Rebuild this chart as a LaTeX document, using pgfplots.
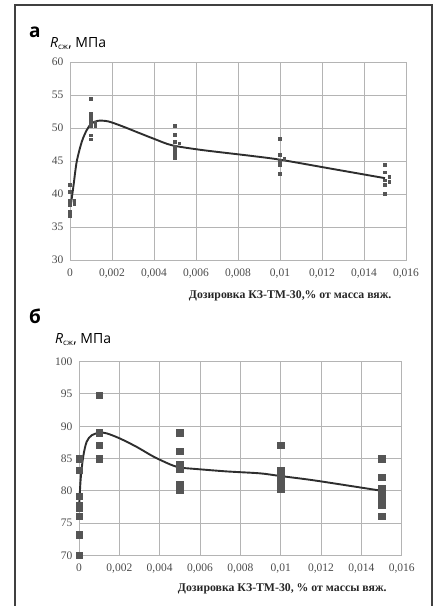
\documentclass[border=0pt]{standalone}
\usepackage{pgfplots}
\pgfplotsset{compat=1.18}
\usepackage{fontspec}
\setmainfont{Liberation Serif}
\newfontfamily\sans{Open Sans}
\definecolor{gridc}{HTML}{B4B4B4}
\definecolor{markc}{HTML}{555555}
\definecolor{linec}{HTML}{2E2E2E}
\definecolor{tickc}{HTML}{4A4A4A}
\pgfplotsset{
  panel/.style={
    scale only axis, anchor=south west,
    axis line style={gridc, line width=1pt},
    grid=major, grid style={gridc, line width=1pt},
    major tick length=0pt,
    scaled x ticks=false, scaled y ticks=false,
    tick label style={font=\fontsize{11.5}{13}\selectfont, text=tickc},
    xtick={0,0.002,0.004,0.006,0.008,0.01,0.012,0.014,0.016},
    xticklabels={0,{0,002},{0,004},{0,006},{0,008},{0,01},{0,012},{0,014},{0,016}},
    xmin=0, xmax=0.016,
    xticklabel style={yshift=-5pt},
    yticklabel style={xshift=-3pt},
    xlabel style={font=\bfseries\fontsize{11.8}{13}\selectfont, text=black!85, anchor=east},
    clip=false,
  }
}
\begin{document}
\begin{tikzpicture}
\path[use as bounding box] (0pt,0pt) rectangle (434pt,-606pt);
\draw[line width=1.4pt, black!75] (15pt,-612pt) -- (15pt,-5pt) -- (432pt,-5pt) -- (432pt,-612pt);

% panel a
\node[anchor=base west, inner sep=0pt, font=\sans\bfseries\fontsize{19}{20}\selectfont] at (29pt,-37pt) {а};
\node[anchor=base west, inner sep=0pt, font=\sans\fontsize{14}{16}\selectfont] at (50pt,-47pt) {\textit{R}\textsubscript{\fontsize{8}{9}\selectfont сж}, МПа};
\begin{axis}[panel, at={(70pt,-260pt)}, width=336pt, height=198pt,
  ymin=30, ymax=60, ytick={30,35,40,45,50,55,60},
  yticklabels={30,35,40,45,50,55,60},
  xlabel={Дозировка КЗ-ТМ-30,\% от масса вяж.},
  xlabel style={at={(axis description cs:0.967,-0.182)}}]
\addplot[only marks, mark=square*, mark size=1.4pt, color=markc] coordinates {
(0,41.4) (0,40.3) (0,39.0) (0,38.7) (0,38.3) (0,37.3) (0,36.7)
(0.0002,39.0) (0.0002,38.5)
(0.001,54.4) (0.001,52.2) (0.001,51.6) (0.001,51.0) (0.001,50.3) (0.001,48.9) (0.001,48.3)
(0.0012,50.8) (0.0012,50.3)
(0.005,50.3) (0.005,49.0) (0.005,47.9) (0.0052,47.7) (0.005,47.2) (0.005,46.6) (0.005,46.0) (0.005,45.5)
(0.01,48.4) (0.01,45.9) (0.0102,45.4) (0.01,45.0) (0.01,44.4) (0.01,43.1)
(0.015,44.4) (0.015,43.3) (0.0152,42.6) (0.015,42.1) (0.0152,41.9) (0.015,41.4) (0.015,40.1)
};
\addplot[smooth, line width=1.9pt, color=linec] coordinates {
(0.00005,38.6) (0.00016,41.1) (0.00032,44.9) (0.00056,47.9) (0.0008,49.7) (0.00103,50.7)
(0.00135,51.1) (0.00182,51.0) (0.00246,50.3) (0.00325,49.3) (0.00405,48.3) (0.00484,47.4)
(0.0062,46.7) (0.00857,45.8) (0.01,45.2) (0.0125,43.8) (0.015,42.4)
};
\end{axis}

% panel b
\node[anchor=base west, inner sep=0pt, font=\sans\bfseries\fontsize{19}{20}\selectfont] at (29pt,-323pt) {б};
\node[anchor=base west, inner sep=0pt, font=\sans\fontsize{14}{16}\selectfont] at (55pt,-343pt) {\textit{R}\textsubscript{\fontsize{8}{9}\selectfont сж}, МПа};
\begin{axis}[panel, at={(79pt,-555.3pt)}, width=322.7pt, height=193.6pt,
  ymin=70, ymax=100, ytick={70,75,80,85,90,95,100},
  yticklabels={70,75,80,85,90,95,100},
  xlabel={Дозировка КЗ-ТМ-30, \% от массы вяж.},
  xlabel style={at={(axis description cs:0.964,-0.174)}}]
\addplot[only marks, mark=square*, mark size=3.2pt, color=markc] coordinates {
(0,85.0) (0,83.2) (0,79.2) (0,77.8) (0,77.4) (0,76.1) (0,73.2) (0,70.0)
(0.001,94.8) (0.001,89.0) (0.001,87.1) (0.001,85.0)
(0.005,89.0) (0.005,86.1) (0.005,84.1) (0.005,83.3) (0.005,81.0) (0.005,80.1)
(0.01,87.1) (0.01,83.2) (0.01,82.3) (0.01,81.1) (0.01,80.2)
(0.015,85.0) (0.015,82.1) (0.015,80.3) (0.015,79.5) (0.015,78.6) (0.015,77.8) (0.015,76.1)
};
\addplot[smooth, line width=1.9pt, color=linec] coordinates {
(0,77.0) (0.00008,81.7) (0.00021,85.3) (0.00038,87.6) (0.00063,88.6) (0.00101,89.0)
(0.00137,88.9) (0.00203,88.1) (0.00286,86.8) (0.00369,85.3) (0.00451,84.1) (0.005,83.6)
(0.0057,83.4) (0.00732,83.0) (0.00898,82.7) (0.00995,82.3) (0.01146,81.7) (0.01294,81.0) (0.015,80.0)
};
\end{axis}
\end{tikzpicture}
\end{document}
